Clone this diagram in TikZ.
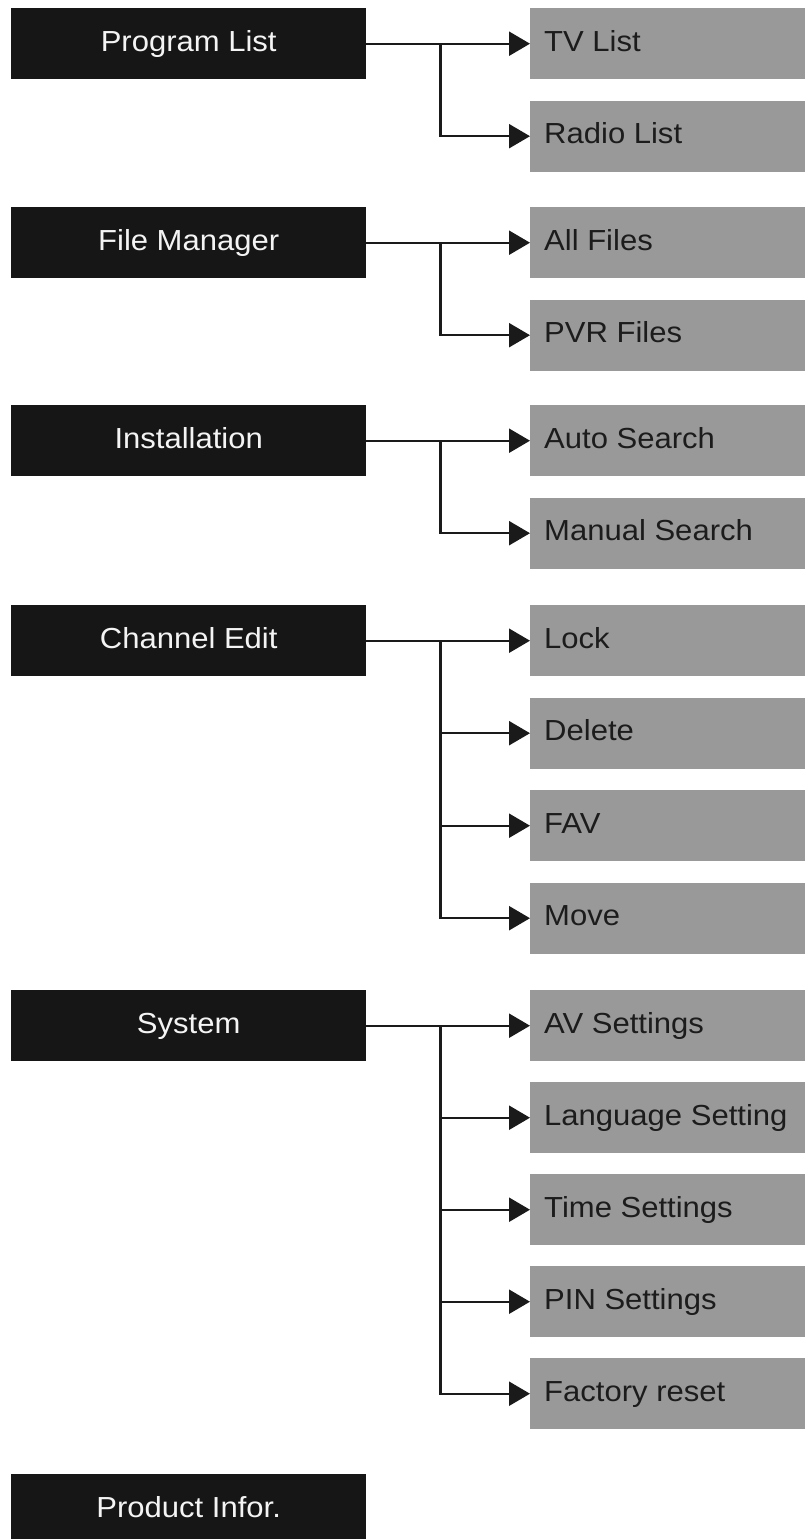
\documentclass[tikz,border=0pt]{standalone}
\usepackage{fontspec}
\setmainfont{Liberation Sans}[FakeStretch=1.07]
\usetikzlibrary{arrows.meta}
\definecolor{boxblack}{HTML}{161616}
\definecolor{boxwhite}{HTML}{F4F4F4}
\definecolor{boxgray}{HTML}{999999}
\definecolor{boxtext}{HTML}{1C1C1C}
\definecolor{linecol}{HTML}{1A1A1A}
\begin{document}
\begin{tikzpicture}[x=1pt,y=-1pt,
  mainbox/.style={fill=boxblack, text=boxwhite, minimum width=355pt, minimum height=71pt,
    inner sep=0pt, anchor=north west, text height=20pt, text depth=5pt,
    font=\fontsize{29}{34}\selectfont},
  subbox/.style={fill=boxgray, text=boxtext, minimum height=71pt, inner xsep=14pt,
    inner ysep=0pt, text width=247pt, align=flush left, anchor=north west,
    text height=20pt, text depth=5pt, font=\fontsize{29}{34}\selectfont},
  conn/.style={draw=linecol, line width=2.3pt, line join=miter,
    -{Triangle[length=21pt,width=24pt]}}]
\useasboundingbox (0,0) rectangle (805,1539);
\clip (0,0) rectangle (805,1539);

% Group 1
\node[mainbox] (m1) at (11,8) {Program List};
\node[subbox] (s11) at (530,8) {TV List};
\node[subbox] (s12) at (530,100.5) {Radio List};
\path (m1.east) ++(74,0) coordinate (j1);
\draw[conn] (m1.east) -- (s11.west);
\draw[conn] (j1) |- (s12.west);

% Group 2
\node[mainbox] (m2) at (11,207) {File Manager};
\node[subbox] (s21) at (530,207) {All Files};
\node[subbox] (s22) at (530,299.5) {PVR Files};
\path (m2.east) ++(74,0) coordinate (j2);
\draw[conn] (m2.east) -- (s21.west);
\draw[conn] (j2) |- (s22.west);

% Group 3
\node[mainbox] (m3) at (11,405) {Installation};
\node[subbox] (s31) at (530,405) {Auto Search};
\node[subbox] (s32) at (530,497.5) {Manual Search};
\path (m3.east) ++(74,0) coordinate (j3);
\draw[conn] (m3.east) -- (s31.west);
\draw[conn] (j3) |- (s32.west);

% Group 4
\node[mainbox] (m4) at (11,605) {Channel Edit};
\node[subbox] (s41) at (530,605) {Lock};
\node[subbox] (s42) at (530,697.5) {Delete};
\node[subbox] (s43) at (530,790) {FAV};
\node[subbox] (s44) at (530,882.5) {Move};
\path (m4.east) ++(74,0) coordinate (j4);
\draw[conn] (m4.east) -- (s41.west);
\draw[conn] (j4) |- (s42.west);
\draw[conn] (j4) |- (s43.west);
\draw[conn] (j4) |- (s44.west);

% Group 5
\node[mainbox] (m5) at (11,990) {System};
\node[subbox] (s51) at (530,990) {AV Settings};
\node[subbox] (s52) at (530,1082) {Language Setting};
\node[subbox] (s53) at (530,1174) {Time Settings};
\node[subbox] (s54) at (530,1266) {PIN Settings};
\node[subbox] (s55) at (530,1358) {Factory reset};
\path (m5.east) ++(74,0) coordinate (j5);
\draw[conn] (m5.east) -- (s51.west);
\draw[conn] (j5) |- (s52.west);
\draw[conn] (j5) |- (s53.west);
\draw[conn] (j5) |- (s54.west);
\draw[conn] (j5) |- (s55.west);

% Group 6
\node[mainbox] (m6) at (11,1474) {Product Infor.};
\end{tikzpicture}
\end{document}
